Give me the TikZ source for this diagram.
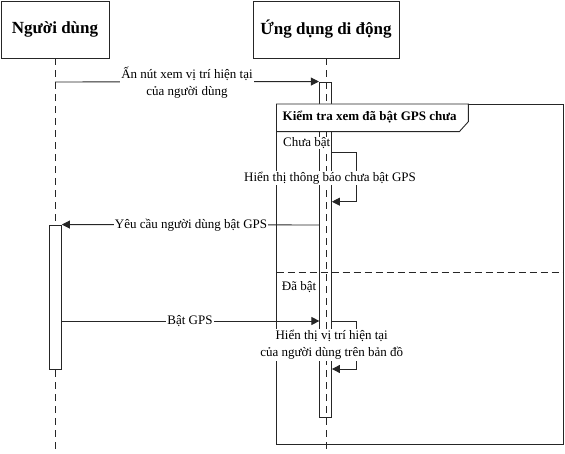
\documentclass[tikz,border=0pt]{standalone}
\usepackage{fontspec}
\setmainfont{Liberation Serif}
\usetikzlibrary{arrows.meta}
\begin{document}
\begin{tikzpicture}[x=1pt,y=-1pt,
  ln/.style={line width=0.9pt,draw=black!85},
  lifeln/.style={ln,dash pattern=on 7pt off 5pt},
  actor/.style={ln,rectangle,minimum width=108pt,minimum height=57pt,font=\fontsize{17}{20}\selectfont\bfseries},
  msg/.style={ln,-{Triangle[length=8pt,width=8pt]}},
  lbl/.style={fill=white,inner sep=1pt,font=\fontsize{13}{17}\selectfont,align=center},
  plain/.style={fill=white,inner sep=0.5pt,font=\fontsize{13}{16}\selectfont,anchor=west}]
\useasboundingbox (0,0) rectangle (565,454);
% actors
\node[actor,minimum width=108pt] (u) at (55,29.5) {Người dùng};
\node[actor,minimum width=146pt] (app) at (326,29.5) {Ứng dụng di động};
% lifelines
\coordinate (uend) at (55,450);
\coordinate (aend) at (326,454);
\draw[lifeln] (u.south) -- (uend);
% activation bars
\node[ln,draw,rectangle,minimum width=12.5pt,minimum height=335pt,inner sep=0pt] (abar) at (325.6,249.5) {};
\draw[lifeln] (app.south) -- (aend);
\node[ln,draw,rectangle,fill=white,minimum width=12pt,minimum height=144pt,inner sep=0pt] (ubar) at (55.4,297) {};
% frame
\coordinate (fTL) at (276.5,104);
\coordinate (fBR) at (563,444);
\draw[ln] (fTL) rectangle (fBR);
\draw[ln,fill=white] (276.5,104) -- (276.5,131.7) -- (459.3,131.7) -- (468.3,121.7) -- (468.3,104) -- cycle;
\node[inner sep=0pt,anchor=west,font=\fontsize{13}{16}\selectfont\bfseries] (ftitle) at (282.5,117.5) {Kiểm tra xem đã bật GPS chưa};
\draw[ln,dash pattern=on 7pt off 4pt] (276.5,272.7) -- (563,272.7);
\node[plain] (c1) at (282.5,143) {Chưa bật};
\node[plain] (c2) at (281.2,287) {Đã bật};
% message 1
\coordinate (m1s) at (55,82);
\draw[msg] (m1s) -- (abar.north west);
\node[lbl] (l1) at (187,82.5) {Ấn nút xem vị trí hiện tại\\[0pt]của người dùng};
% self message 1
\coordinate (s1a) at (331.9,152);
\coordinate (s1b) at (356,152);
\coordinate (s1c) at (356,201.7);
\coordinate (s1d) at (331.9,201.7);
\draw[msg] (s1a) -- (s1b) -- (s1c) -- (s1d);
\node[lbl] (l2) at (330,178) {Hiển thị thông báo chưa bật GPS};
% message Yeu cau
\coordinate (m2s) at (319.4,225);
\draw[msg] (m2s) -- (ubar.north east);
\node[lbl] (l3) at (191,225) {Yêu cầu người dùng bật GPS};
% message Bat GPS
\coordinate (m3s) at (61.4,321);
\coordinate (m3e) at (319.4,321);
\draw[msg] (m3s) -- (m3e);
\node[lbl] (l4) at (190,321) {Bật GPS};
% self message 2
\coordinate (s2a) at (331.9,321);
\coordinate (s2b) at (356,321);
\coordinate (s2c) at (356,369);
\coordinate (s2d) at (331.9,369);
\draw[msg] (s2a) -- (s2b) -- (s2c) -- (s2d);
\node[lbl] (l5) at (331.7,345) {Hiển thị vị trí hiện tại\\[0pt]của người dùng trên bản đồ};
\end{tikzpicture}
\end{document}
